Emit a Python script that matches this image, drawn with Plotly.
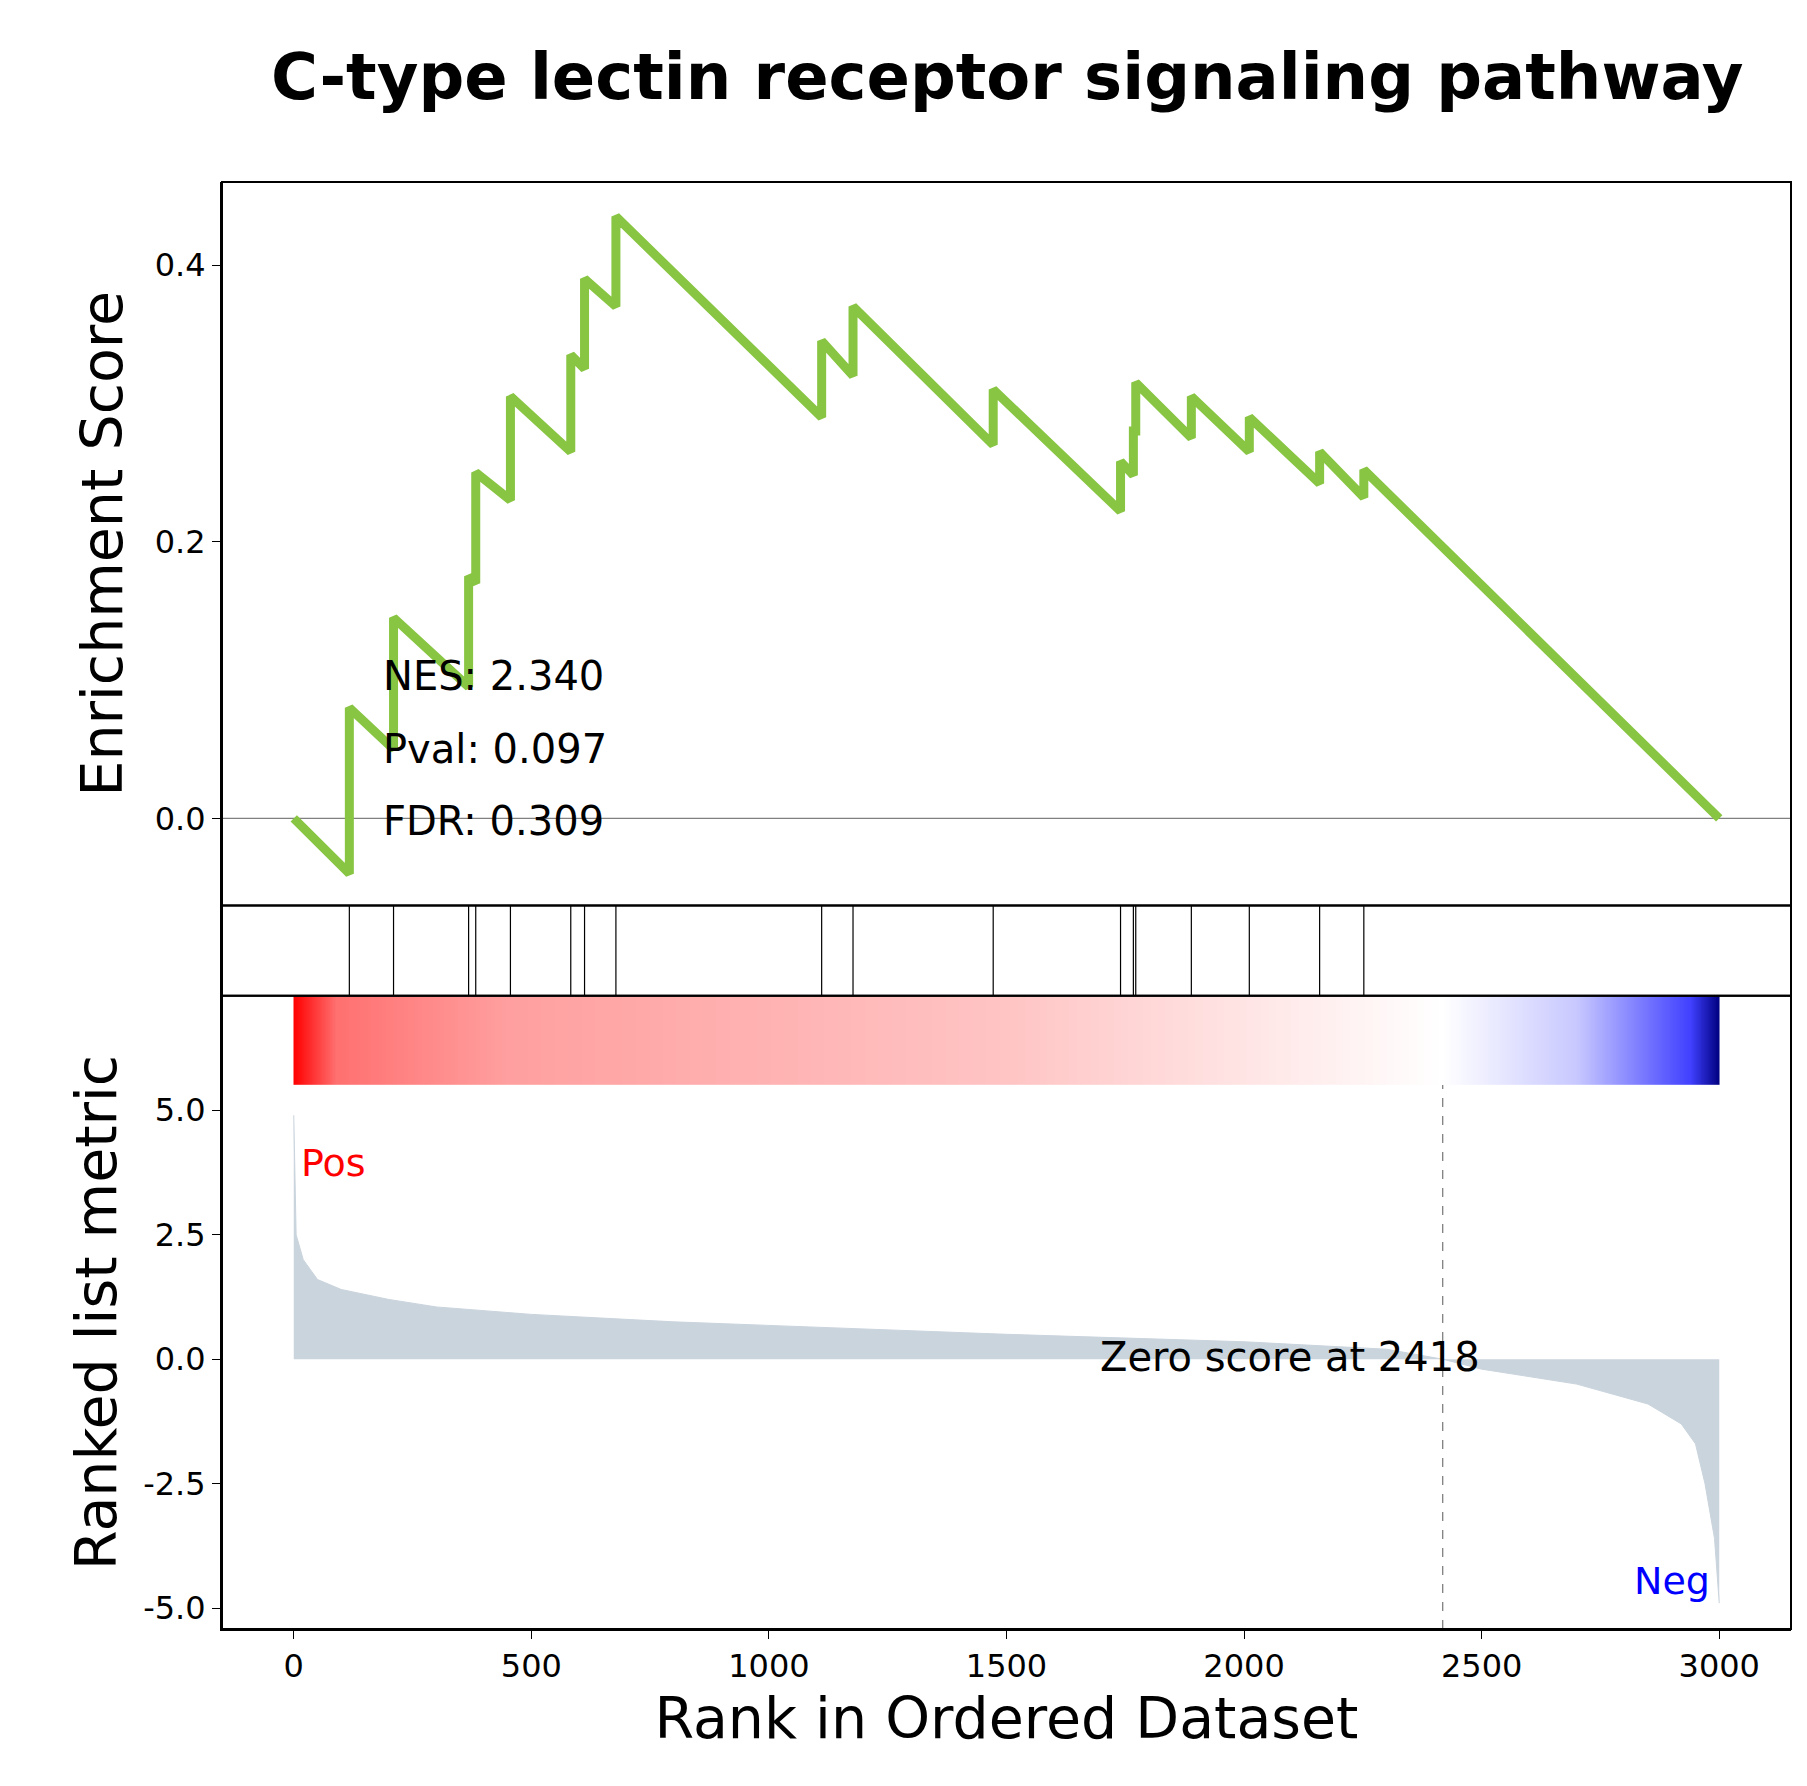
import plotly.graph_objects as go

# gene-set hit positions and running enrichment score just before / after each hit
hit_rank = [117, 210, 368, 383, 456, 583, 612, 678, 1111, 1177, 1472, 1740, 1767, 1772, 1889, 2011, 2159, 2252]
es_before = [-0.040, 0.050, 0.095, 0.170, 0.230, 0.265, 0.325, 0.370, 0.290, 0.320, 0.270, 0.222, 0.248, 0.280, 0.275, 0.265, 0.242, 0.232]
es_after = [0.080, 0.145, 0.175, 0.250, 0.305, 0.335, 0.390, 0.435, 0.345, 0.370, 0.310, 0.258, 0.280, 0.315, 0.305, 0.290, 0.265, 0.252]
n_genes = 3000

# ranked list metric, read at a few ranks
metric_rank = [0, 5, 20, 50, 100, 200, 300, 500, 800, 1000, 1500, 2000, 2300, 2418, 2500, 2700, 2850, 2920, 2950, 2970, 2990, 3000]
metric_val = [4.9, 2.5, 2.0, 1.6, 1.4, 1.2, 1.05, 0.9, 0.75, 0.68, 0.5, 0.35, 0.2, 0.0, -0.2, -0.5, -0.9, -1.3, -1.7, -2.5, -3.6, -4.9]
zero_score = 2418

es_x, es_y = [0], [0.0]
for r, b, a in zip(hit_rank, es_before, es_after):
    es_x += [r, r]
    es_y += [b, a]
es_x.append(n_genes)
es_y.append(0.0)

fig = go.Figure()
fig.add_trace(go.Scatter(x=es_x, y=es_y, mode="lines", line=dict(color="#88c542", width=9),
                         xaxis="x", yaxis="y"))

hx, hy = [], []
for r in hit_rank:
    hx += [r, r, None]
    hy += [0, 1, None]
fig.add_trace(go.Scatter(x=hx, y=hy, mode="lines", line=dict(color="black", width=1.2),
                         xaxis="x", yaxis="y2"))

fig.add_trace(go.Scatter(x=metric_rank, y=metric_val, mode="lines", fill="tozeroy",
                         fillcolor="#cad4dd", line=dict(color="#cad4dd", width=1),
                         xaxis="x", yaxis="y3"))
fig.add_trace(go.Heatmap(z=[list(range(n_genes + 1))], x0=0, dx=1, y0=6.405, dy=1.79,
                         colorscale=[[0, "#ff0000"], [0.03, "#ff7070"], [0.15, "#ff9f9f"],
                                     [0.5, "#ffc4c4"], [0.806, "#ffffff"], [0.9, "#c8c8ff"],
                                     [0.98, "#4040ff"], [1, "#000080"]],
                         showscale=False, xaxis="x", yaxis="y3", hoverinfo="skip"))
fig.add_trace(go.Scatter(x=[zero_score, zero_score], y=[-5.42, 5.51], mode="lines",
                         line=dict(color="gray", width=1.3, dash="dash"), xaxis="x", yaxis="y3"))

ax = dict(showline=True, linecolor="black", linewidth=2, showgrid=False,
          zeroline=False, ticks="outside", ticklen=8, tickcolor="black",
          tickfont=dict(size=32, color="black"))
fig.update_layout(
    width=1807, height=1786, plot_bgcolor="white", paper_bgcolor="white", showlegend=False,
    margin=dict(l=214, r=24, t=174, b=165),
    font=dict(family="DejaVu Sans", color="black"),
    title=dict(text="<b>C-type lectin receptor signaling pathway</b>", x=0.553, xanchor="center",
               y=0.974, yanchor="top", font=dict(size=64)),
    xaxis=dict(ax, range=[-151, 3151], anchor="y3", tickvals=[0, 500, 1000, 1500, 2000, 2500, 3000],
               title=dict(text="Rank in Ordered Dataset", font=dict(size=57), standoff=14)),
    yaxis=dict(ax, domain=[0.5, 1], range=[-0.063, 0.46], tickvals=[0, 0.2, 0.4],
               ticktext=["0.0", "0.2", "0.4"],
               title=dict(text="Enrichment Score", font=dict(size=57), standoff=14)),
    yaxis2=dict(ax, domain=[0.4376, 0.5], range=[0, 1], showticklabels=False, ticks=""),
    yaxis3=dict(ax, domain=[0, 0.4376], range=[-5.42, 7.30], tickvals=[-5, -2.5, 0, 2.5, 5],
                ticktext=["-5.0", "-2.5", "0.0", "2.5", "5.0"],
                title=dict(text="Ranked list metric", font=dict(size=57), standoff=8)),
    shapes=[dict(type="line", xref="x domain", yref="y", x0=0, x1=1, y0=0, y1=0,
                 line=dict(color="gray", width=1.2), layer="below")]
    + [dict(type="rect", xref="paper", yref="paper", x0=0, x1=1, y0=a, y1=b,
            line=dict(color="black", width=2)) for a, b in [(0.5, 1), (0.4376, 0.5), (0, 0.4376)]],
)
anns = [("NES: 2.340", 0.103), ("Pval: 0.097", 0.050), ("FDR: 0.309", -0.002)]
for t, yv in anns:
    fig.add_annotation(x=183, y=yv, xref="x", yref="y", text=t, showarrow=False,
                       xanchor="left", font=dict(size=40))
fig.add_annotation(x=2500, y=0.05, xref="x", yref="y3", text="Zero score at 2418", showarrow=False,
                   xanchor="right", font=dict(size=40))
fig.add_annotation(x=12, y=3.95, xref="x", yref="y3", text="Pos", showarrow=False,
                   xanchor="left", font=dict(size=38, color="red"))
fig.add_annotation(x=2985, y=-4.45, xref="x", yref="y3", text="Neg", showarrow=False,
                   xanchor="right", font=dict(size=38, color="blue"))

fig.write_html("out.html")
